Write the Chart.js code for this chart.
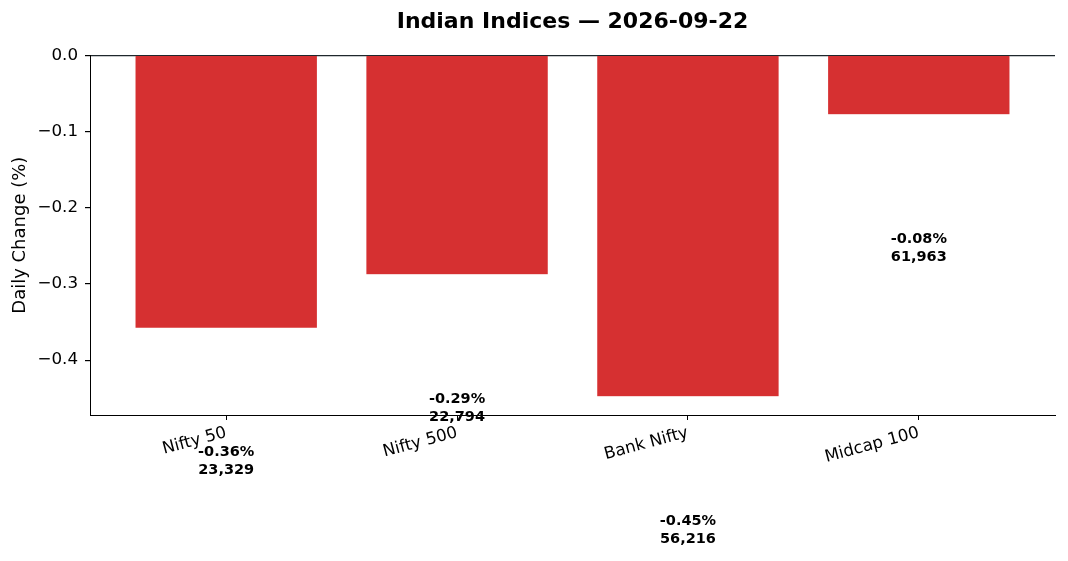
<!DOCTYPE html>
<html>
<head>
<meta charset="utf-8">
<script src="https://cdn.jsdelivr.net/npm/chart.js@4"></script>
<style>
  html, body { margin: 0; padding: 0; background: #fff; }
  #wrap { width: 1068px; height: 561px; }
</style>
</head>
<body>
<div id="wrap"><canvas id="chart"></canvas></div>
<script>
// data
var indices = ['Nifty 50', 'Nifty 500', 'Bank Nifty', 'Midcap 100'];
var changes = [-0.358, -0.288, -0.448, -0.078];
var levels = ['23,329', '22,794', '56,216', '61,963'];
var yTicks = [0.0, -0.1, -0.2, -0.3, -0.4];
var titleText = 'Indian Indices — 2026-09-22';

var FONT = "'DejaVu Sans', sans-serif";

// value labels, placed a fixed offset below each bar like the original
// title is also drawn here so it sits centred over the plot area
var valueLabels = {
    id: 'valueLabels',
    afterDatasetsDraw: function (chart) {
        var ctx = chart.ctx;
        var x = chart.scales.x;
        var y = chart.scales.y;
        var area = chart.chartArea;
        ctx.save();
        ctx.fillStyle = '#000';
        ctx.font = 'bold 14.5px ' + FONT;
        ctx.textAlign = 'center';
        ctx.textBaseline = 'middle';
        for (var i = 0; i < changes.length; i++) {
            var px = x.getPixelForValue(i);
            var py = y.getPixelForValue(changes[i] - 0.175);
            ctx.fillText(changes[i].toFixed(2) + '%', px, py - 9);
            ctx.fillText(levels[i], px, py + 9);
        }
        ctx.font = 'bold 22px ' + FONT;
        ctx.fillText(titleText, (area.left + area.right) / 2, 22);
        ctx.restore();
    }
};

var ctx = document.getElementById('chart').getContext('2d');
var chart = new Chart(ctx, {
    type: 'bar',
    data: {
        datasets: [{
            label: 'Daily Change',
            data: changes.map(function (v, i) { return { x: i, y: v }; }),
            backgroundColor: '#d63031',
            borderColor: 'rgba(255,255,255,0.6)',
            borderWidth: 0.5,
            barPercentage: 0.79,
            categoryPercentage: 1.0
        }]
    },
    options: {
        responsive: true,
        maintainAspectRatio: false,
        animation: false,
        layout: { padding: { left: 0, right: 13, top: 0, bottom: 0 } },
        plugins: {
            legend: { display: false },
            tooltip: { enabled: false },
            title: {
                // keeps the space, the text itself is drawn by valueLabels
                display: true,
                text: titleText,
                color: 'rgba(0,0,0,0)',
                font: { family: FONT, size: 22, weight: 'bold' },
                padding: { top: 8, bottom: 21 }
            }
        },
        scales: {
            x: {
                type: 'linear',
                min: -0.59,
                max: 3.59,
                offset: false,
                afterBuildTicks: function (scale) {
                    scale.ticks = indices.map(function (n, i) { return { value: i }; });
                },
                afterFit: function (scale) { scale.height = 146; },
                ticks: {
                    color: '#000',
                    font: { family: FONT, size: 16.7 },
                    maxRotation: 15,
                    minRotation: 15,
                    padding: 3,
                    callback: function (v) { return indices[v]; }
                },
                grid: { offset: false, drawOnChartArea: false, tickLength: 5, tickColor: '#000' },
                border: { color: '#000', width: 1 }
            },
            y: {
                min: -0.472,
                max: 0,
                afterBuildTicks: function (scale) {
                    scale.ticks = yTicks.map(function (v) { return { value: v }; });
                },
                afterFit: function (scale) { scale.width = 90; },
                ticks: {
                    color: '#000',
                    font: { family: FONT, size: 16.7 },
                    padding: 7,
                    callback: function (v) { return v.toFixed(1).replace('-', '\u2212'); }
                },
                grid: {
                    drawOnChartArea: true,
                    color: function (c) { return c.tick && c.tick.value === 0 ? '#1e272c' : 'rgba(0,0,0,0)'; },
                    lineWidth: 1.2,
                    tickLength: 5,
                    tickColor: '#000'
                },
                border: { color: '#000', width: 1 },
                title: {
                    display: true,
                    text: 'Daily Change (%)',
                    color: '#000',
                    font: { family: FONT, size: 18 },
                    padding: { top: 10, bottom: 8 }
                }
            }
        }
    },
    plugins: [valueLabels]
});
</script>
</body>
</html>
